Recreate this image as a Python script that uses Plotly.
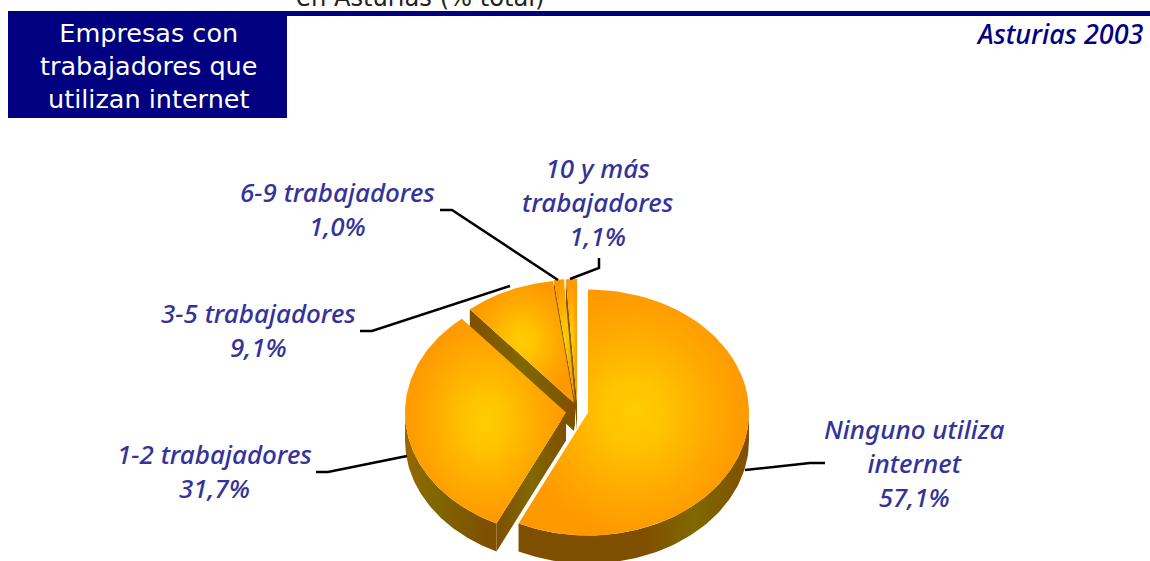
import numpy as np
import plotly.graph_objects as go

# ---- data ----
categories = ["Ninguno utiliza internet", "1-2 trabajadores", "3-5 trabajadores",
              "6-9 trabajadores", "10 y más trabajadores"]
values = [57.1, 31.7, 9.1, 1.0, 1.1]
label_texts = ["Ninguno utiliza<br>internet<br>57,1%", "1-2 trabajadores<br>31,7%",
               "3-5 trabajadores<br>9,1%", "6-9 trabajadores<br>1,0%",
               "10 y más<br>trabajadores<br>1,1%"]
title_text = "Empresas con<br>trabajadores que<br>utilizan internet"
right_title = "Asturias 2003"
clipped_title = "en Asturias (% total)"

# ---- styling / geometry ----
W, H = 1150, 561
RX, RY, DEPTH = 161, 123, 28
centres = [(588, 412.5), (566, 412.5), (574, 403), (575, 402), (577, 402)]
label_pos = [(914, 463), (214, 471), (258, 330), (337, 209), (598, 202)]
leaders = [[(745, 470), (810, 463), (825, 463)],
           [(407, 456), (328, 472), (316, 472)],
           [(510, 286), (372, 331), (360, 331)],
           [(558, 280), (452, 210), (440, 210)],
           [(570, 279), (599, 268), (599, 258)]]
NAVY = "#000080"
LABEL = "#333399"
BROWN, OLIVE = "#7F4F00", "#806800"
top_scale = [[0, "#FFCC00"], [0.25, "#FFC400"], [0.7, "#FFA800"], [1, "#FF9900"]]
cut_scale = [[0, BROWN], [0.5, OLIVE], [1, BROWN]]
rim_scales = {0: [[0, BROWN], [0.55, BROWN], [0.76, OLIVE], [1, BROWN]],
              1: [[0, "#996600"], [0.3, OLIVE], [0.9, BROWN], [1, BROWN]]}

fig = go.Figure()


def rim(c, a, b, n=80, dz=0):
    t = np.radians(np.linspace(a, b, n))
    return c[0] + RX * np.sin(t), c[1] - RY * np.cos(t) + dz


def polygon(x, y, grad):
    fig.add_trace(go.Scatter(
        x=list(x), y=list(y), mode="lines", fill="toself", line=dict(width=0),
        fillgradient=grad, hoverinfo="skip", showlegend=False))


radial = dict(type="radial", colorscale=top_scale)

edges = np.concatenate([[0], np.cumsum(values)]) * 3.6
slices = [(i, edges[i], edges[i + 1]) for i in range(len(values))]

for i, a, b in [slices[4], slices[3], slices[2], slices[1], slices[0]]:
    c = centres[i]
    # outer wall (only the part that faces the viewer)
    lo, hi = max(a, 90), min(b, 270)
    if lo < hi:
        x1, y1 = rim(c, lo, hi)
        x2, y2 = rim(c, hi, lo, dz=DEPTH)
        polygon(np.r_[x1, x2], np.r_[y1, y2],
                dict(type="horizontal", colorscale=rim_scales.get(i, cut_scale)))
    # radial cut wall at the slice's start edge
    if i > 0:
        xr, yr = rim(c, a, a, n=1)
        polygon([c[0], xr[0], xr[0], c[0]],
                [c[1], yr[0], yr[0] + DEPTH, c[1] + DEPTH],
                dict(type="horizontal", colorscale=cut_scale))
    # top face
    x, y = rim(c, a, b)
    polygon(np.r_[c[0], x], np.r_[c[1], y], radial)

for pts in leaders:
    fig.add_trace(go.Scatter(x=[p[0] for p in pts], y=[p[1] for p in pts], mode="lines",
                             line=dict(color="black", width=2.5), hoverinfo="skip",
                             showlegend=False))

shapes = [
    dict(type="rect", xref="x", yref="y", x0=8, x1=1150, y0=11, y1=16,
         fillcolor=NAVY, line_width=0),
    dict(type="rect", xref="x", yref="y", x0=8, x1=287, y0=11, y1=118,
         fillcolor=NAVY, line_width=0),
]

ann = []
for (x, y), t in zip(label_pos, label_texts):
    ann.append(dict(x=x, y=y, text=t, showarrow=False, xanchor="center", yanchor="middle",
                    font=dict(family="Noto Sans", size=26, color=LABEL, style="italic", weight=500)))
ann.append(dict(x=148, y=66, text=title_text, showarrow=False, xanchor="center", yanchor="middle",
                font=dict(family="DejaVu Sans", size=25.5, color="white")))
ann.append(dict(x=1146, y=33, text=right_title, showarrow=False, xanchor="right", yanchor="middle",
                font=dict(family="Noto Sans", size=27, color=NAVY, style="italic", weight=500)))
ann.append(dict(xref="paper", yref="paper", x=420 / W, y=1, yshift=18, text=clipped_title,
                showarrow=False, xanchor="center", yanchor="top",
                font=dict(family="DejaVu Sans", size=24.2, color="#222222")))

fig.update_layout(
    width=W, height=H, margin=dict(l=0, r=0, t=0, b=0),
    paper_bgcolor="white", plot_bgcolor="white", showlegend=False,
    xaxis=dict(range=[0, W], visible=False, fixedrange=True),
    yaxis=dict(range=[H, 0], visible=False, fixedrange=True),
    shapes=shapes, annotations=ann,
)
fig.write_html("out.html", config={"displayModeBar": False},
               post_script="document.body.style.margin='0';document.body.style.overflow='hidden';")
